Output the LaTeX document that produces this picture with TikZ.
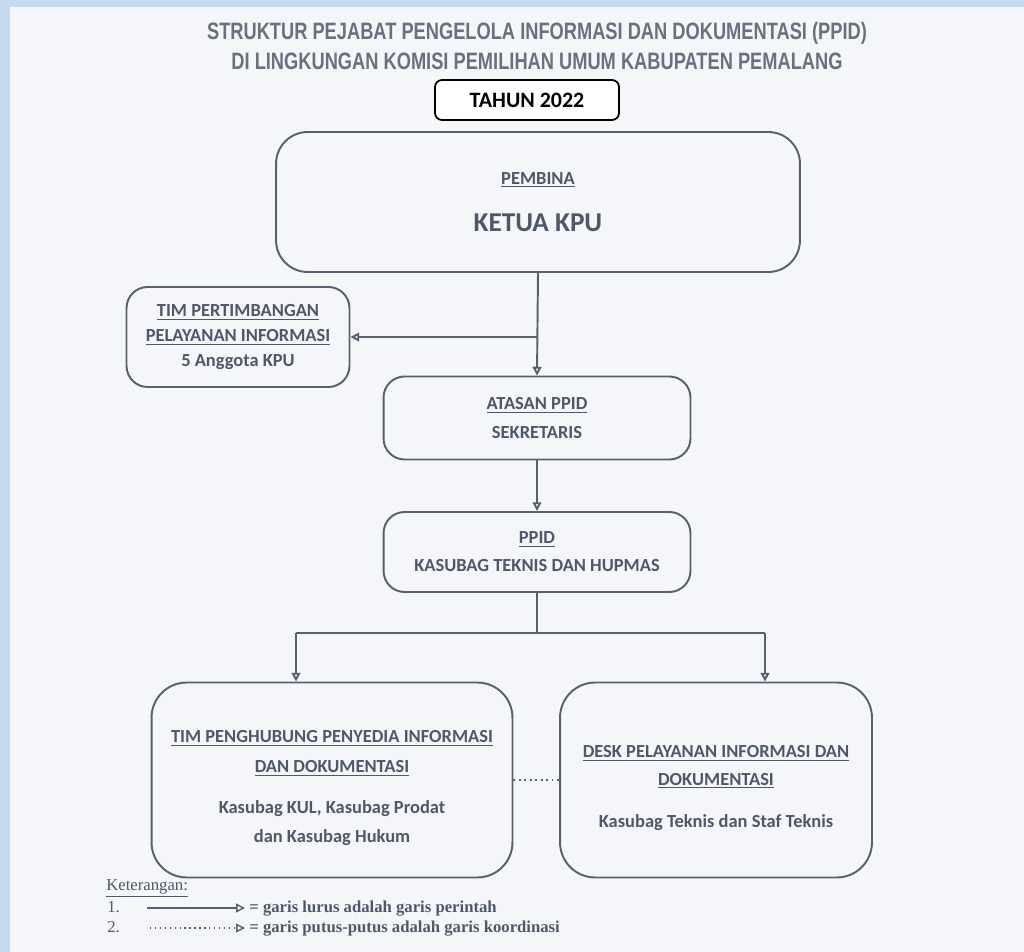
\documentclass[tikz,border=0pt]{standalone}
\usepackage{fontspec}
\setmainfont{Carlito}
\newfontfamily\judulfont[FakeStretch=0.77]{Liberation Sans}
\newfontfamily\ketfont{Liberation Serif}
\usetikzlibrary{arrows.meta}
\definecolor{tepi}{RGB}{197,217,241}
\definecolor{kertas}{RGB}{245,246,250}
\definecolor{tinta}{RGB}{78,88,104}
\definecolor{garis}{RGB}{88,96,110}

\begin{document}
\begin{tikzpicture}[x=0.02cm, y=-0.02cm,
		kotak/.style={draw=garis, line width=1.1pt, rounded corners=12pt, align=center, text=tinta,
			font=\bfseries\fontsize{10.5}{14}\selectfont, inner sep=0pt},
		perintah/.style={draw=garis, line width=1.1pt, -{Triangle[open, length=5pt, width=5pt]}},
		judul/.style={text=tinta!85, font=\judulfont\bfseries\fontsize{13.5}{16}\selectfont},
		ket/.style={anchor=base west, text=tinta, inner sep=0pt, font=\ketfont\fontsize{9.5}{11}\selectfont}]
	% latar
	\fill[tepi] (0,0) rectangle (1024,952);
	\fill[kertas] (10,7) rectangle (1024,952);
	\useasboundingbox (0,0) rectangle (1024,952);

	% judul
	\node[judul] (judul1) at (537,33) {STRUKTUR PEJABAT PENGELOLA INFORMASI DAN DOKUMENTASI (PPID)};
	\node[judul] (judul2) at (537,61) {DI LINGKUNGAN KOMISI PEMILIHAN UMUM KABUPATEN PEMALANG};
	\node[draw=black, fill=white, line width=1pt, rounded corners=4pt, minimum width=3.68cm, minimum height=0.8cm,
		font=\bfseries\fontsize{12.5}{15}\selectfont] (tahun) at (527,100) {TAHUN 2022};

	% kotak
	\node[kotak, rounded corners=18pt, minimum width=10.48cm, minimum height=2.8cm] (pembina) at (538,202)
		{\underline{PEMBINA}\\[13pt]{\fontsize{15.5}{18}\selectfont KETUA KPU}};
	\node[kotak, minimum width=4.46cm, minimum height=2cm] (tim) at (238,337)
		{\underline{TIM PERTIMBANGAN}\\\underline{PELAYANAN INFORMASI}\\5 Anggota KPU};
	\node[kotak, minimum width=6.14cm, minimum height=1.66cm] (atasan) at (537,418)
		{\underline{ATASAN PPID}\\[2pt]SEKRETARIS};
	\node[kotak, minimum width=6.14cm, minimum height=1.6cm] (ppid) at (537,552)
		{\underline{PPID}\\[2pt]KASUBAG TEKNIS DAN HUPMAS};
	\node[kotak, rounded corners=20pt, minimum width=7.22cm, minimum height=3.9cm] (penghubung) at (332,780)
		{\rule{0pt}{16pt}\underline{TIM PENGHUBUNG PENYEDIA INFORMASI}\\[3pt]\underline{DAN DOKUMENTASI}\\[9pt]%
		Kasubag KUL, Kasubag Prodat\\[2.5pt]dan Kasubag Hukum};
	\node[kotak, rounded corners=20pt, minimum width=6.24cm, minimum height=3.9cm] (desk) at (716,780)
		{\rule{0pt}{16pt}\underline{DESK PELAYANAN INFORMASI DAN}\\[1.5pt]\underline{DOKUMENTASI}\\[10pt]%
		Kasubag Teknis dan Staf Teknis};

	% garis
	\draw[perintah] (pembina.south) -- (atasan.north);
	\draw[perintah] (pembina.south |- tim.east) -- (tim.east);
	\draw[perintah] (atasan.south) -- (ppid.north);
	\coordinate (cabangkiri) at (296,633);
	\coordinate (cabangkanan) at (765,633);
	\draw[draw=garis, line width=1.1pt] (ppid.south) -- (ppid.south |- cabangkiri);
	\draw[draw=garis, line width=1.1pt] (cabangkiri) -- (cabangkanan);
	\draw[perintah] (cabangkiri) -- (cabangkiri |- penghubung.north);
	\draw[perintah] (cabangkanan) -- (cabangkanan |- desk.north);
	\draw[draw=garis, line width=1.1pt, dotted] (penghubung.east) -- (desk.west);

	% keterangan
	\node[ket] (keterangan) at (106,890) {\underline{Keterangan:}};
	\node[ket] (no1) at (107,912) {1.};
	\node[ket] (no2) at (107,932) {2.};
	\coordinate (awal1) at (147,908);
	\coordinate (akhir1) at (245,908);
	\coordinate (awal2) at (150,928);
	\coordinate (akhir2) at (245,928);
	\draw[perintah, line width=0.8pt] (awal1) -- (akhir1);
	\draw[perintah, line width=0.8pt, dotted] (awal2) -- (akhir2);
	\node[ket, font=\ketfont\bfseries\fontsize{9.5}{11}\selectfont] (arti1) at (249,912) {= garis lurus adalah garis perintah};
	\node[ket, font=\ketfont\bfseries\fontsize{9.5}{11}\selectfont] (arti2) at (249,932) {= garis putus-putus adalah garis koordinasi};
\end{tikzpicture}
\end{document}
